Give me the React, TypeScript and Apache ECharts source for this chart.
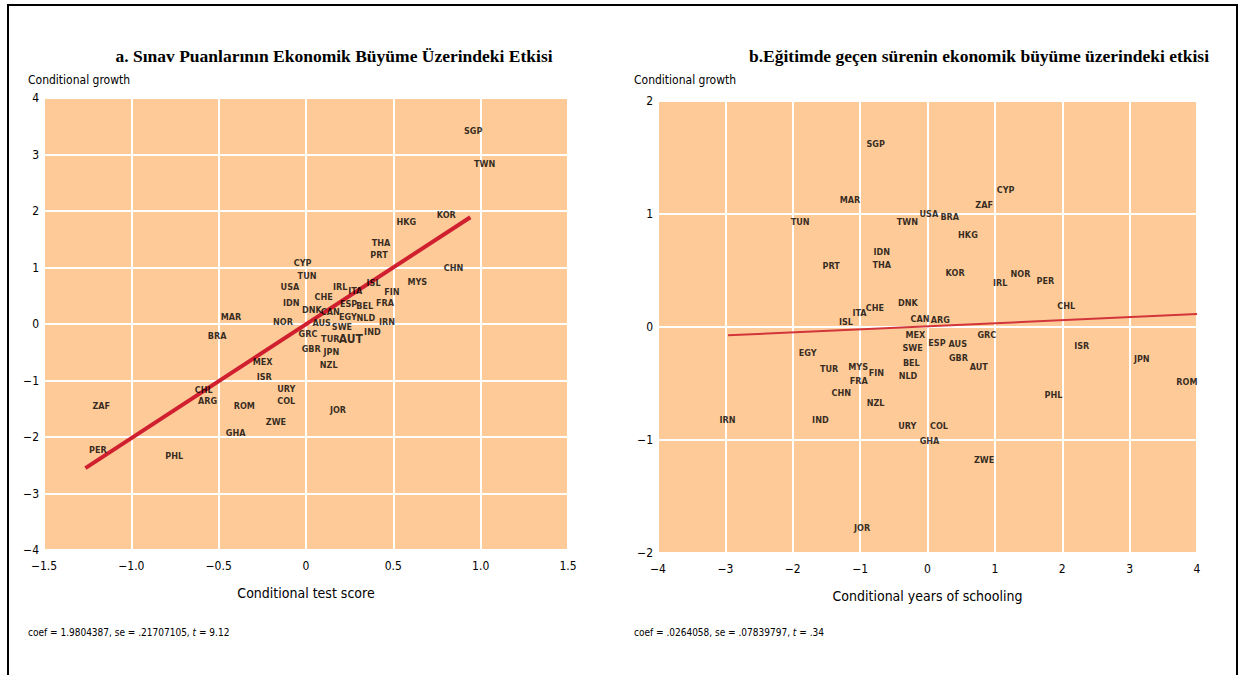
import React, { useEffect, useRef } from "react";
import * as echarts from "echarts";

// ---- Panel a: test scores vs growth ----
const leftCountries = ["SGP","TWN","KOR","HKG","THA","PRT","CHN","MYS","CYP","TUN","USA","IDN","IRL","ITA","ISL","FIN","FRA","CHE","DNK","CAN","ESP","BEL","EGY","NLD","IRN","NOR","AUS","SWE","IND","GRC","TUR","AUT","GBR","JPN","NZL","MEX","ISR","URY","COL","ZWE","JOR","MAR","BRA","CHL","ARG","ROM","GHA","ZAF","PER","PHL"];
const leftScore = [0.957,1.023,0.803,0.574,0.429,0.418,0.845,0.637,-0.019,0.006,-0.092,-0.084,0.196,0.282,0.387,0.492,0.452,0.101,0.034,0.139,0.244,0.336,0.240,0.343,0.464,-0.132,0.090,0.206,0.380,0.011,0.139,0.256,0.030,0.145,0.130,-0.248,-0.239,-0.113,-0.113,-0.172,0.183,-0.429,-0.509,-0.586,-0.563,-0.353,-0.403,-1.172,-1.192,-0.754];
const leftGrowth = [3.42,2.84,1.93,1.81,1.43,1.22,1.00,0.75,1.08,0.85,0.65,0.38,0.66,0.58,0.72,0.57,0.38,0.47,0.25,0.22,0.35,0.32,0.13,0.10,0.04,0.03,0.01,-0.06,-0.15,-0.18,-0.27,-0.26,-0.44,-0.49,-0.73,-0.68,-0.93,-1.15,-1.36,-1.73,-1.53,0.13,-0.22,-1.16,-1.37,-1.46,-1.93,-1.45,-2.23,-2.34];
const leftFitX = [-1.263, 0.941];
const leftFitY = [-2.55, 1.89];
const leftXTicks = { min: -1.5, max: 1.5, interval: 0.5 };
const leftYTicks = { min: -4, max: 4, interval: 1 };

// ---- Panel b: years of schooling vs growth ----
const rightCountries = ["SGP","MAR","TUN","TWN","USA","IDN","THA","PRT","DNK","CHE","ITA","ISL","CYP","ZAF","BRA","HKG","KOR","IRL","NOR","PER","CHL","CAN","ARG","MEX","ESP","AUS","GRC","SWE","BEL","NLD","GBR","AUT","ISR","JPN","ROM","PHL","EGY","TUR","MYS","FRA","FIN","CHN","NZL","IRN","IND","URY","COL","GHA","JOR","ZWE"];
const rightYears = [-0.77,-1.15,-1.89,-0.30,0.02,-0.68,-0.68,-1.43,-0.29,-0.78,-1.01,-1.21,1.16,0.84,0.33,0.60,0.41,1.08,1.38,1.75,2.06,-0.11,0.19,-0.18,0.14,0.45,0.88,-0.22,-0.24,-0.29,0.46,0.76,2.29,3.18,3.85,1.87,-1.78,-1.46,-1.03,-1.02,-0.76,-1.28,-0.77,-2.97,-1.59,-0.30,0.17,0.03,-0.97,0.84];
const rightGrowth = [1.62,1.12,0.93,0.93,1.00,0.66,0.55,0.54,0.21,0.17,0.12,0.04,1.21,1.08,0.97,0.81,0.48,0.39,0.47,0.41,0.19,0.07,0.06,-0.07,-0.14,-0.15,-0.07,-0.19,-0.32,-0.43,-0.27,-0.35,-0.17,-0.28,-0.49,-0.60,-0.23,-0.37,-0.35,-0.48,-0.41,-0.58,-0.67,-0.82,-0.82,-0.88,-0.88,-1.01,-1.78,-1.18];
const rightFitX = [-2.96, 4];
const rightFitY = [-0.074, 0.115];
const rightXTicks = { min: -4, max: 4, interval: 1 };
const rightYTicks = { min: -2, max: 2, interval: 1 };

const titleA = "a. Sınav Puanlarının Ekonomik Büyüme Üzerindeki Etkisi";
const titleB = "b.Eğitimde geçen sürenin ekonomik büyüme üzerindeki etkisi";
const yName = "Conditional growth";
const xNameA = "Conditional test score";
const xNameB = "Conditional years of schooling";
const noteA = ["coef = 1.9804387, se = .21707105, ", "t", " = 9.12"];
const noteB = ["coef = .0264058, se = .07839797, ", "t", " = .34"];

const NARROW = "'Liberation Sans Narrow','DejaVu Sans Condensed','Arial Narrow',sans-serif";
const SERIF = "'Liberation Serif','DejaVu Serif',serif";
const BG = "#fdca98";

function fmt(v: number, dec: number): string {
  if (Math.abs(v) < 1e-9) return "0";
  const s = Math.abs(v).toFixed(dec);
  return (v < 0 ? "\u2212" : "") + s;
}

function pts(names: string[], xs: number[], ys: number[]) {
  return names.map((n, i) => ({
    value: [xs[i], ys[i]],
    name: n,
  }));
}

export default function App() {
  const ref = useRef<HTMLDivElement>(null);
  useEffect(() => {
    if (!ref.current) return;
    const chart = echarts.init(ref.current, undefined, { renderer: "svg" });
    const axisLabelStyle = { fontFamily: NARROW, fontSize: 12, color: "#000" };
    const xAxisCommon = {
      type: "value" as const,
      axisLine: { show: false },
      axisTick: { show: false },
      splitLine: { show: true, lineStyle: { color: "#ffffff", width: 2 } },
      nameLocation: "middle" as const,
      nameGap: 36,
      nameTextStyle: { fontFamily: NARROW, fontSize: 14, color: "#000" },
    };
    const yAxisCommon = {
      type: "value" as const,
      axisLine: { show: false },
      axisTick: { show: false },
      splitLine: { show: true, lineStyle: { color: "#ffffff", width: 2 } },
    };
    const labelStyle = {
      show: true,
      position: "inside" as const,
      formatter: (p: any) => p.name,
      fontFamily: NARROW,
      fontSize: 9,
      fontWeight: "bold" as const,
      color: "#000",
    };
    const leftData = pts(leftCountries, leftScore, leftGrowth).map((d) =>
      d.name === "AUT" ? { ...d, label: { fontSize: 12 } } : d
    );
    const option: any = {
      animation: false,
      backgroundColor: "#ffffff",
      grid: [
        { left: 44, top: 98, width: 524, height: 452, show: true, backgroundColor: BG, borderWidth: 0 },
        { left: 658, top: 101, width: 539, height: 452, show: true, backgroundColor: BG, borderWidth: 0 },
      ],
      xAxis: [
        {
          ...xAxisCommon,
          gridIndex: 0,
          ...leftXTicks,
          name: xNameA,
          axisLabel: { ...axisLabelStyle, margin: 10, formatter: (v: number) => fmt(v, 1) },
        },
        {
          ...xAxisCommon,
          gridIndex: 1,
          ...rightXTicks,
          name: xNameB,
          axisLabel: { ...axisLabelStyle, margin: 10, formatter: (v: number) => fmt(v, 0) },
        },
      ],
      yAxis: [
        {
          ...yAxisCommon,
          gridIndex: 0,
          ...leftYTicks,
          axisLabel: { ...axisLabelStyle, margin: 5, formatter: (v: number) => fmt(v, 0) },
        },
        {
          ...yAxisCommon,
          gridIndex: 1,
          ...rightYTicks,
          axisLabel: { ...axisLabelStyle, margin: 5, formatter: (v: number) => fmt(v, 0) },
        },
      ],
      series: [
        {
          type: "line",
          xAxisIndex: 0,
          yAxisIndex: 0,
          data: leftFitX.map((x, i) => [x, leftFitY[i]]),
          symbol: "none",
          lineStyle: { color: "#d0202f", width: 4 },
          silent: true,
          z: 2,
        },
        {
          type: "line",
          xAxisIndex: 1,
          yAxisIndex: 1,
          data: rightFitX.map((x, i) => [x, rightFitY[i]]),
          symbol: "none",
          lineStyle: { color: "#d2353a", width: 2 },
          silent: true,
          z: 2,
        },
        {
          type: "scatter",
          xAxisIndex: 0,
          yAxisIndex: 0,
          data: leftData,
          symbolSize: 1,
          itemStyle: { color: "rgba(0,0,0,0)" },
          label: labelStyle,
          silent: true,
          z: 3,
        },
        {
          type: "scatter",
          xAxisIndex: 1,
          yAxisIndex: 1,
          data: pts(rightCountries, rightYears, rightGrowth),
          symbolSize: 1,
          itemStyle: { color: "rgba(0,0,0,0)" },
          label: labelStyle,
          silent: true,
          z: 3,
        },
      ],
      graphic: [
        {
          type: "rect",
          shape: { x: 8, y: 5, width: 1229, height: 700 },
          style: { fill: "none", stroke: "#000", lineWidth: 2 },
          silent: true,
        },
        {
          type: "text",
          x: 334,
          y: 56,
          style: {
            text: titleA,
            fontFamily: SERIF,
            fontWeight: "bold",
            fontSize: 17.5,
            fill: "#000",
            align: "center",
            verticalAlign: "middle",
          },
        },
        {
          type: "text",
          x: 979,
          y: 56,
          style: {
            text: titleB,
            fontFamily: SERIF,
            fontWeight: "bold",
            fontSize: 17.5,
            fill: "#000",
            align: "center",
            verticalAlign: "middle",
          },
        },
        {
          type: "text",
          x: 28,
          y: 80,
          style: { text: yName, fontFamily: NARROW, fontSize: 12, fill: "#000", verticalAlign: "middle" },
        },
        {
          type: "text",
          x: 634,
          y: 80,
          style: { text: yName, fontFamily: NARROW, fontSize: 12, fill: "#000", verticalAlign: "middle" },
        },
        {
          type: "text",
          x: 28,
          y: 632,
          style: {
            text: "{a|" + noteA[0] + "}{i|" + noteA[1] + "}{a|" + noteA[2] + "}",
            verticalAlign: "middle",
            rich: {
              a: { fontFamily: NARROW, fontSize: 10, color: "#000" },
              i: { fontFamily: NARROW, fontSize: 10, fontStyle: "italic", color: "#000" },
            },
          },
        },
        {
          type: "text",
          x: 634,
          y: 632,
          style: {
            text: "{a|" + noteB[0] + "}{i|" + noteB[1] + "}{a|" + noteB[2] + "}",
            verticalAlign: "middle",
            rich: {
              a: { fontFamily: NARROW, fontSize: 10, color: "#000" },
              i: { fontFamily: NARROW, fontSize: 10, fontStyle: "italic", color: "#000" },
            },
          },
        },
      ],
    };
    chart.setOption(option);
    return () => chart.dispose();
  }, []);
  return (
    <div
      ref={ref}
      style={{ position: "fixed", left: 0, top: 0, width: 1239, height: 675, background: "#fff" }}
    />
  );
}
